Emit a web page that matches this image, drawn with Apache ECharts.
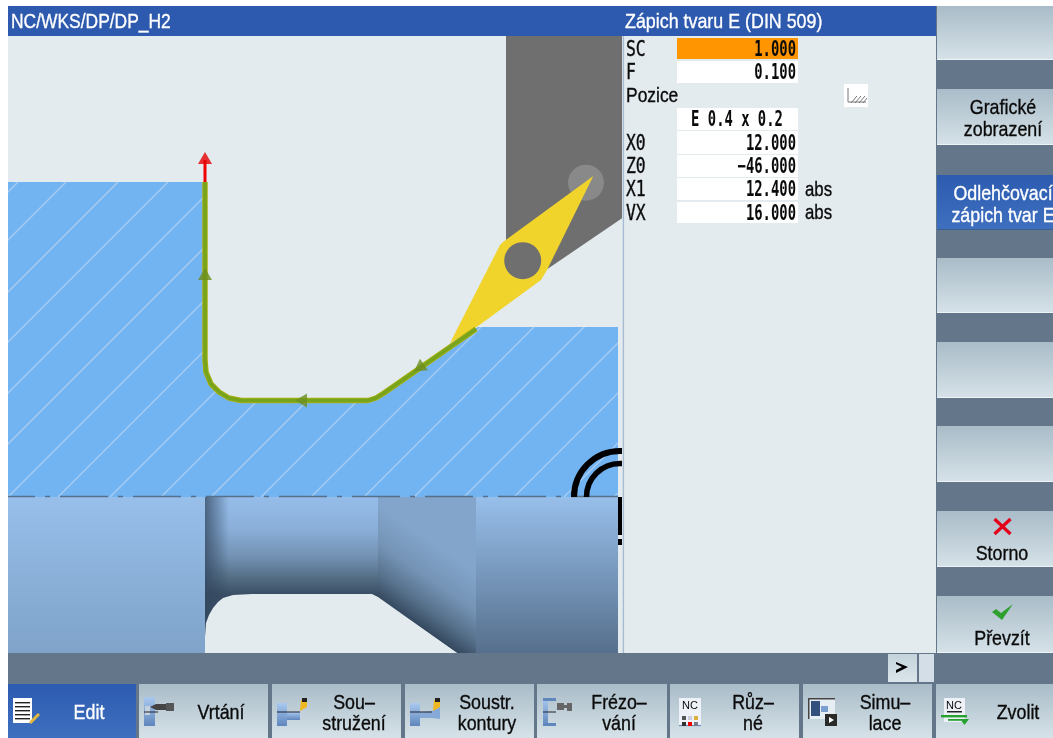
<!DOCTYPE html>
<html><head><meta charset="utf-8">
<style>html,body{margin:0;padding:0;background:#fff}#c{width:1053px;height:738px}</style>
<script src="https://cdn.jsdelivr.net/npm/echarts@6/dist/echarts.min.js"></script>
</head><body><div id="c"></div>
<script>
// ---------- data ----------
const titleLeft = 'NC/WKS/DP/DP_H2';
const titleRight = 'Zápich tvaru E (DIN 509)';
const fieldLabels = ['SC','F','X0','Z0','X1','VX'];
const fieldValues = ['1.000','0.100','12.000','−46.000','12.400','16.000'];
const fieldUnits = ['','','','','abs','abs'];
const positionLabel = 'Pozice';
const positionValue = 'E 0.4 x 0.2';
const softkeyLabels = [[],['Grafické','zobrazení'],['Odlehčovací','zápich tvar E'],[],[],[],['Storno'],['Převzít']];
const tabLabels = [['Edit'],['Vrtání'],['Sou–','stružení'],['Soustr.','kontury'],['Frézo–','vání'],['Růz–','né'],['Simu–','lace'],['Zvolit']];

const partRect = [[8,182],[618,182],[618,497],[8,497]];
const notch = [[205,182],[205,365],[207,377],[213,388],[222,395],[232,399],[240,400],[370,400],[378,398],[478,327],[618,327],[618,182]];
const strip = [[618,182],[622,182],[622,653],[618,653]];
const hatchBases = [-297,-249,-197,-147,-96,-45,8,58,110,161,211,261,311,364,414,464,514,564,614];
const centerLine = [[8,496.6],[618,496.6]];
const blockLeft = [[8,497],[205,497],[205,653],[8,653]];
const blockMid = [[205,497],[378,497],[378,640],[205,640]];
const blockCone = [[378,497],[476,497],[476,653],[457,653],[372,594],[378,594]];
const blockRight = [[476,497],[618,497],[618,653],[476,653]];
const voidShape = [[205,653],[205,637],[206,623],[209,615],[213,608],[218,602],[223,598],[233,595],[252,594],[372,594],[378,597],[457,653]];
const holder = [[506,36],[622.5,36],[622.5,218],[546,270],[506,262]];
const insert = [[450,343],[500,245],[503,242],[593.3,176],[547,270],[541,280],[476.7,327]];
const toolPath = [[205,182],[205,360],[206,372],[211,384],[219,392],[229,398],[241,400.5],[368,400.5],[376,398],[384,393],[476,329]];
const flowArrows = [[205,274,0],[301,400.5,90],[419,368,125]];
const leadOut = [[205,182],[205,160]];
const leadOutTip = [[205,158,0]];

const X0 = 8, X1 = 622, Y0 = 36, Y1 = 653;
const bg = '#e3ebef';
const slate = '#64778a';
const G = echarts.graphic;
const vGrad = (a,b) => new G.LinearGradient(0,0,0,1,[{offset:0,color:a},{offset:1,color:b}]);

function poly(pts, fill, z){
  return {type:'custom',coordinateSystem:'cartesian2d',clip:true,silent:true,z,
    data:[pts[0]],
    renderItem:(p,api)=>({type:'polygon',shape:{points:pts.map(q=>api.coord(q))},style:{fill}})};
}
function arc(c, r, w, z){
  return {type:'custom',coordinateSystem:'cartesian2d',clip:true,silent:true,z,data:[c],
    renderItem:(p,api)=>{const o=api.coord(c);const s=api.size([r,r]);
      return {type:'arc',shape:{cx:o[0],cy:o[1],r:s[0],startAngle:Math.PI,endAngle:Math.PI*1.6,clockwise:true},
        style:{fill:'none',stroke:'#000',lineWidth:w}};}};
}
function circ(c, r, fill, z){
  return {type:'custom',coordinateSystem:'cartesian2d',clip:true,silent:true,z,data:[c],
    renderItem:(p,api)=>{const o=api.coord(c);const s=api.size([r,r]);
      return {type:'circle',shape:{cx:o[0],cy:o[1],r:s[0]},style:{fill}};}};
}
function line(pts,color,width,z,extra){
  return {type:'line',data:pts,showSymbol:false,symbol:'none',silent:true,z,clip:true,
    lineStyle:Object.assign({color,width,cap:'butt',join:'round'},extra||{})};
}
const hatch = {type:'custom',coordinateSystem:'cartesian2d',clip:true,silent:true,z:3,
  data:hatchBases.map(b=>[b,497]),
  renderItem:(p,api)=>{const b=api.value(0);const a=api.coord([b,497]);const e=api.coord([b+315,182]);
    return {type:'line',shape:{x1:a[0],y1:a[1],x2:e[0],y2:e[1]},style:{stroke:'#a5cdf4',lineWidth:1.5}};}};
const midGrad = new G.LinearGradient(0,0,0,1,[{offset:0,color:'#96bde9'},{offset:0.22,color:'#8aafd9'},{offset:0.42,color:'#7291b2'},{offset:0.58,color:'#50697f'},{offset:0.68,color:'#3a4e64'},{offset:1,color:'#3a4e64'}]);
const coneGrad = new G.LinearGradient(1,0,0.24,0.73,[{offset:0,color:'#83a5cb'},{offset:0.45,color:'#83a5cb'},{offset:0.68,color:'#7493b5'},{offset:0.86,color:'#56708a'},{offset:1,color:'#34485e'}]);

const series = [
  poly(partRect,'#72b3f2',2),
  hatch,
  poly(notch,bg,4),
  poly(strip,bg,4),
  poly(blockLeft,vGrad('#97bfea','#7fa3c9'),5),
  poly(blockMid,midGrad,5),
  poly(blockCone,coneGrad,5),
  poly(blockRight,vGrad('#97bfea','#566f8c'),5),
  {type:'custom',coordinateSystem:'cartesian2d',clip:true,silent:true,z:6,data:[blockMid[0]],
    renderItem:(p,api)=>{const a=api.coord(blockMid[0]);const e=api.coord(blockMid[2]);
      return {type:'rect',shape:{x:a[0],y:a[1],width:24,height:e[1]-a[1]},
        style:{fill:new G.LinearGradient(0,0,1,0,[{offset:0,color:'rgba(50,70,95,0.75)'},{offset:1,color:'rgba(50,70,95,0)'}])}};}},
  poly(voidShape,bg,7),
  line(centerLine,'#56708c',1.5,8,{type:[48,10,5,10],dashOffset:21}),
  arc([620,497],46,6,9),
  arc([620,497],33.5,5.5,9),
  poly([[618,497],[622,497],[622,535],[618,535]],'#000',9),
  poly([[618,539],[622,539],[622,545],[618,545]],'#000',9),
  poly(holder,'#6f6f6f',10),
  circ([586,182.7],18,'rgba(255,255,255,0.18)',11),
  poly(insert,'#f0d42c',12),
  circ([522.7,260.7],18.5,'#6f6f6f',13),
  line(leadOut,'#f00000',3,14),
  {type:'scatter',data:leadOutTip.map(d=>d.slice(0,2)),symbol:'triangle',symbolSize:[14,12],silent:true,z:15,itemStyle:{color:'#e60000'}},
  line(toolPath,'#a8b010',5.5,16),
  line(toolPath,'#78a41c',3.6,17),
  {type:'scatter',data:flowArrows.map(d=>({value:[d[0],d[1]],symbolRotate:d[2]})),symbol:'triangle',symbolSize:[14,12],silent:true,z:18,itemStyle:{color:'#6b8f1f'}}
];

// ---------- interface furniture ----------
const els = [];
const MONO = '"DejaVu Sans Mono"';
function rect(x,y,w,h,fill,extra){els.push(Object.assign({type:'rect',shape:{x,y,width:w,height:h},style:{fill},silent:true,z:20},extra||{}));}
function shape(points,fill,z){els.push({type:'polygon',shape:{points},style:{fill},silent:true,z:z||23});}
function seg(x1,y1,x2,y2,stroke,lineWidth,z){els.push({type:'line',shape:{x1,y1,x2,y2},style:{stroke,lineWidth},silent:true,z:z||23});}
function txt(x,y,text,o){o=o||{};const col=o.color||'#0a0a0a';
  els.push({type:'text',x,y:y+(o.family===MONO?2:1),scaleX:o.sx||0.85,scaleY:1,silent:true,z:30,
    style:{text,x:0,y:0,fill:col,stroke:col,lineWidth:o.bold===false?0:0.35,textAlign:o.align||'left',textVerticalAlign:'middle',
      font:(o.weight||'normal')+' '+(o.size||21)+'px '+(o.family||'"Liberation Sans"')}});}

rect(8,6,928,30,'#2d5aae');
txt(11,21,titleLeft,{color:'#fff',sx:0.83});
txt(625,21,titleRight,{color:'#fff',sx:0.85});
rect(623,36,313,617,bg);
rect(622.5,36,1.6,617,'#a6bbcf');
rect(936,6,117,647,slate);
rect(8,653,1045,31,slate);
rect(8,684,1045,54,slate,{z:19});

// parameter fields
const rows = [[38,21],[61,22],[131,23],[155,22],[178,22],[202,21]];
rows.forEach((r,i)=>{
  rect(677,r[0],121,r[1],i===0?'#ff9500':'#fff');
  txt(626,r[0]+r[1]/2,fieldLabels[i],{family:MONO,sx:0.78});
  txt(796,r[0]+r[1]/2,fieldValues[i],{family:MONO,sx:0.66,weight:'bold',align:'right',bold:false});
  if(fieldUnits[i]) txt(805,r[0]+r[1]/2,fieldUnits[i],{sx:0.8});
});
txt(626,95,positionLabel,{sx:0.83});
rect(677,108,121,22,'#fff');
txt(737,119,positionValue,{family:MONO,sx:0.66,weight:'bold',align:'center',bold:false});
rect(844,84,24,23,'#fff');
[[848,88,848,102],[848,102,866,102],[851,103,857,96],[855,103,861,96],[859,103,865,96],[863,103,867,98]].forEach(l=>seg(l[0],l[1],l[2],l[3],'#777',1,21));

// soft keys
const skY = [[6,60],[89,145],[175,230],[258,313],[342,398],[426,482],[511,567],[596,653]];
skY.forEach((s,i)=>{
  const active = i===2;
  rect(937,s[0],116,s[1]-s[0],active?vGrad('#2c5bb0','#3f70bf'):vGrad('#a9bcc8','#d6e2e8'));
  rect(937,s[1]-1,116,1,active?'#3a5f92':'#eef3f6',{z:21});
  const L = softkeyLabels[i], col = active?'#fff':'#0a0a0a';
  if(L.length===2){
    txt(1003,s[0]+18,L[0],{align:'center',color:col});
    txt(1003,s[0]+40,L[1],{align:'center',color:col});
  } else if(L.length===1){
    txt(1002,s[0]+42,L[0],{align:'center'});
  }
});
// cancel / accept glyphs
seg(994.5,519,1010.5,534,'#e2001a',3.2,22); seg(1010.5,519,994.5,534,'#e2001a',3.2,22);
shape([[992,612],[996,609],[1001,613],[1013,604],[1002,620]],'#2fa02f',22);

// horizontal scroll buttons
rect(888,654,29,28,vGrad('#c4d3dc','#dbe5ea'));
rect(919,654,15,28,'#d3dee6');
shape([[896,662],[908,667],[896,673],[896,670],[902,667],[896,664]],'#000',24);

// bottom tabs
const tabX = [[8,136],[139,268],[272,401],[405,534],[537,667],[670,799],[803,932],[936,1053]];
const tabTextX = [89,221,354,487,619,753,885,1018];
tabX.forEach((t,i)=>{
  const active = i===0;
  rect(t[0],684,t[1]-t[0],54,active?vGrad('#2c5bb0','#3f70bf'):vGrad('#a9bcc8','#d6e2e8'));
  const L = tabLabels[i], col = active?'#fff':'#0a0a0a';
  if(L.length===2){
    txt(tabTextX[i],702,L[0],{align:'center',color:col});
    txt(tabTextX[i],723,L[1],{align:'center',color:col});
  } else txt(tabTextX[i],712,L[0],{align:'center',color:col});
});
// tab icons
const icoBlue = vGrad('#a9c9ef','#5f86bd');
rect(13,698,19,25,'#fff',{z:22}); [702,706,710,714,718].forEach(y=>rect(15,y,15,1.4,'#222',{z:23}));
seg(39,714,30,723,'#e7b93c',3,24);
// drilling
rect(144,697,11,29,icoBlue,{z:22}); rect(145,706,5,9,'#c3d2dc',{z:22.5});
shape([[150,707],[156,704],[166,704],[166,710],[156,710]],'#444',23); rect(166,703,8,8,'#555',{z:23});
seg(144,712,158,712,'#223',1,24);
// turning
rect(277,703,10,23,icoBlue,{z:22}); rect(287,712,13,8,icoBlue,{z:22});
shape([[301,700],[307,698],[307,707],[300,711]],'#f0b820',23); rect(302,698,5,4,'#222',{z:24});
seg(277,712,300,712,'#223',1,24);
// contour turning
rect(410,703,10,23,icoBlue,{z:22}); shape([[420,712],[432,711],[440,707],[440,719],[432,718],[420,718]],'#86a9d8',22);
shape([[434,700],[440,698],[440,707],[433,711]],'#f0b820',23); rect(435,698,5,4,'#222',{z:24});
seg(410,712,432,712,'#223',1,24);
// milling
rect(543,698,5,28,icoBlue,{z:22}); rect(543,698,13,3,'#5f86bd',{z:22}); rect(543,723,13,3,'#5f86bd',{z:22});
rect(557,703,7,7,'#666',{z:23}); rect(564,705,3,3,'#666',{z:23}); rect(567,703,5,8,'#666',{z:23});
seg(543,712,556,712,'#223',1,24);
// misc
rect(679,698,22,28,'#eef2f8',{z:22}); seg(679,725.5,701,725.5,'#6b8cc0',1.2,23);
txt(690,705,'NC',{size:11,sx:1,align:'center',bold:false});
[[682,716,'#555'],[688,716,'#ccd'],[694,716,'#d9b03a'],[682,722,'#333'],[688,722,'#e00'],[694,722,'#778']].forEach(c=>rect(c[0],c[1],4,4,c[2],{z:23}));
// simulation
rect(808,698,27,21,'#e6edf3',{z:22}); rect(808,698,27,1.5,'#444',{z:23}); rect(808,698,1.5,21,'#444',{z:23});
rect(811,701,9,15,'#33507c',{z:23}); rect(821,706,7,6,'#7ba0d0',{z:23});
rect(825,714,12,12,'#2a2a2a',{z:24}); shape([[829,717],[834,720],[829,723]],'#fff',25);
// select
rect(944,698,21,24,'#eef2f8',{z:22}); txt(954,705,'NC',{size:11,sx:1,align:'center',bold:false});
rect(947,711,15,1.5,'#222',{z:23});
rect(941,715,26,2.4,'#27a12f',{z:24}); shape([[960,719],[969,719],[964.5,725]],'#27a12f',24); rect(948,719,13,1.8,'#27a12f',{z:24});

const chart = echarts.init(document.getElementById('c'),null,{renderer:'canvas'});
chart.setOption({
  animation:false,
  backgroundColor:'#fff',
  grid:{show:true,left:X0,width:X1-X0,top:Y0,height:Y1-Y0,backgroundColor:bg,borderWidth:0,containLabel:false},
  xAxis:{type:'value',min:X0,max:X1,show:false},
  yAxis:{type:'value',min:Y0,max:Y1,inverse:true,show:false},
  tooltip:{show:false},
  series,
  graphic:{elements:els}
});
</script></body></html>
